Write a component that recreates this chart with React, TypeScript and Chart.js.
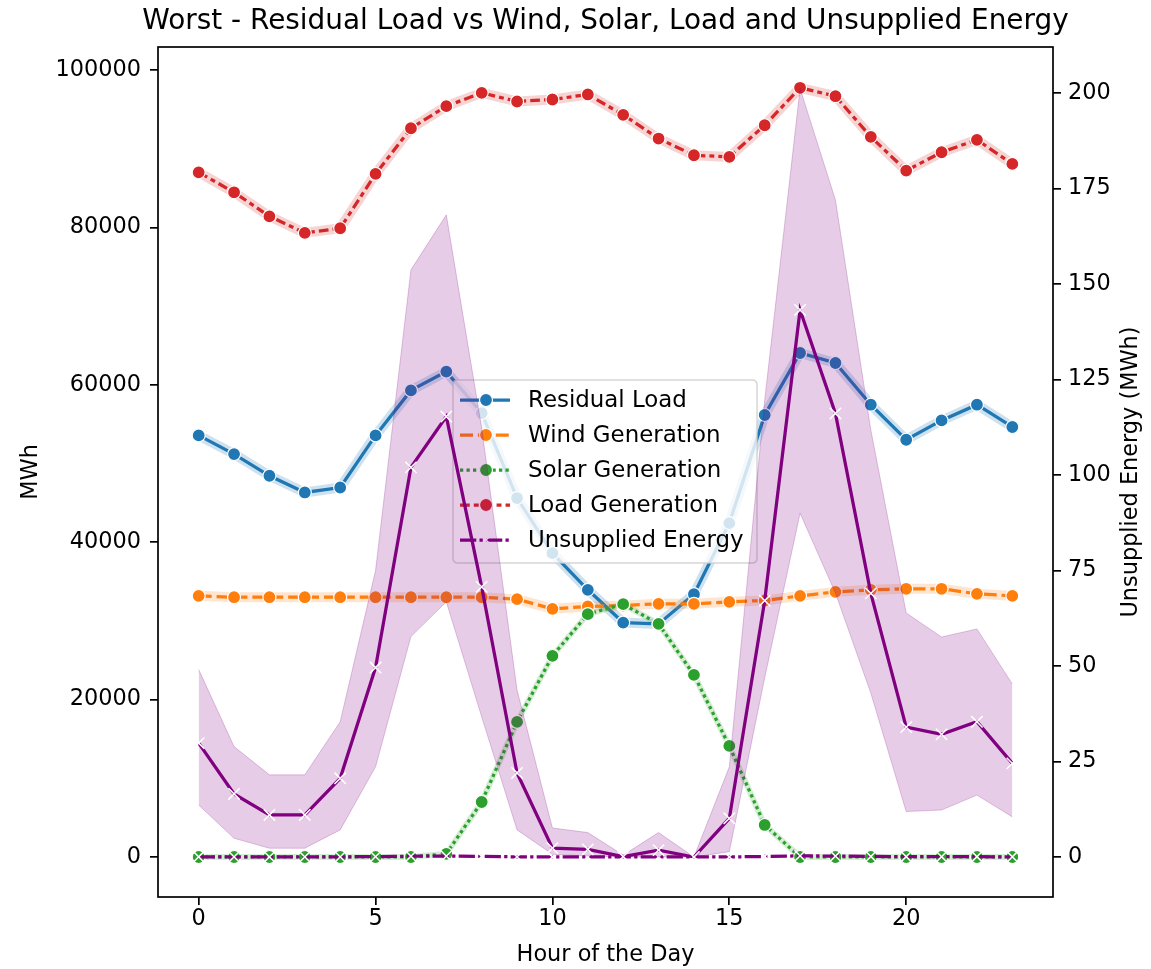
import React, { useEffect, useRef } from 'react';
import { Chart, registerables } from 'chart.js';

Chart.register(...registerables);

// ---------------- data ----------------
const hours = [0, 1, 2, 3, 4, 5, 6, 7, 8, 9, 10, 11, 12, 13, 14, 15, 16, 17, 18, 19, 20, 21, 22, 23];

const residualLoad = [53570, 51200, 48440, 46320, 46950, 53570, 59290, 61670, 56410, 45610, 38610, 33950,
  29790, 29620, 33400, 42430, 56160, 64040, 62770, 57470, 53020, 55470, 57470, 54640];

const windGeneration = [33180, 33010, 33010, 33010, 33010, 33010, 33010, 33010, 33010, 32760, 31530, 31830,
  31950, 32170, 32170, 32420, 32590, 33180, 33690, 33950, 34080, 34080, 33440, 33180];

const solarGeneration = [0, 0, 0, 0, 0, 0, 0, 400, 6990, 17160, 25560, 30860,
  32130, 29620, 23140, 14110, 4070, 0, 0, 0, 0, 0, 0, 0];

const loadGeneration = [87000, 84460, 81410, 79300, 79890, 86800, 92600, 95400, 97100, 96000, 96250, 96890,
  94300, 91290, 89170, 88960, 92980, 97740, 96670, 91510, 87220, 89550, 91130, 88070];

const unsuppliedEnergy = [29.8, 16.5, 11.0, 11.0, 20.6, 49.6, 102.0, 115.3, 70.7, 22.0, 2.3, 2.0,
  0.1, 1.8, 0, 10.1, 67.1, 143.2, 116.1, 69.0, 34.0, 32.1, 35.4, 24.5];

const unsuppliedLower = [13.6, 4.9, 2.3, 2.3, 7.1, 23.6, 57.7, 66.8, 36.7, 7.1, 0.7, 0.3,
  0, 0, 0, 1.4, 46.9, 90.0, 69.1, 42.9, 11.9, 12.3, 16.2, 10.5];

const unsuppliedUpper = [49.1, 28.9, 21.5, 21.5, 35.4, 75.0, 153.7, 168.1, 112.3, 43.7, 7.6, 6.4,
  0.5, 6.4, 0, 23.6, 119.6, 201.2, 172.0, 111.8, 63.9, 57.6, 59.7, 45.3];

const leftTicks = [0, 20000, 40000, 60000, 80000, 100000];
const rightTicks = [0, 25, 50, 75, 100, 125, 150, 175, 200];
const xTicks = [0, 5, 10, 15, 20];

const titleText = 'Worst - Residual Load vs Wind, Solar, Load and Unsupplied Energy';
const xLabel = 'Hour of the Day';
const leftLabel = 'MWh';
const rightLabel = 'Unsupplied Energy (MWh)';

// ---------------- style ----------------
const W = 1151;
const H = 969;
const FONT = '"DejaVu Sans", "Liberation Sans", sans-serif';
const FS = 22.4;
const LEGEND_FS = 22.9;
const TITLE_FS = 27.9;
const LW = 3.25;
const BLUE = '#1f77b4';
const ORANGE = '#ff7f0e';
const GREEN = '#2ca02c';
const RED = '#d62728';
const PURPLE = '#800080';

const DASH_WIND = [13, 4.9];
const DASH_SOLAR = [3.25, 3.25];
const DASH_LOAD = [9.75, 4.06, 4.9, 4.06];
const DASH_UNS = [16.25, 3.25, 3.25, 3.25];

const legendItems = [
  { label: 'Residual Load', color: BLUE, dash: [] as number[], marker: 'circle' },
  { label: 'Wind Generation', color: ORANGE, dash: DASH_WIND, marker: 'circle' },
  { label: 'Solar Generation', color: GREEN, dash: DASH_SOLAR, marker: 'circle' },
  { label: 'Load Generation', color: RED, dash: DASH_LOAD, marker: 'circle' },
  { label: 'Unsupplied Energy', color: PURPLE, dash: DASH_UNS, marker: 'x' },
];

function pts(arr: number[]) {
  return hours.map((h, i) => ({ x: h, y: arr[i] }));
}

function hexA(hex: string, a: number) {
  const n = parseInt(hex.slice(1), 16);
  return `rgba(${(n >> 16) & 255},${(n >> 8) & 255},${n & 255},${a})`;
}

function drawLegend(ctx: CanvasRenderingContext2D) {
  ctx.save();
  const x0 = 453, y0 = 380, w = 304, h = 183, r = 5;
  ctx.beginPath();
  ctx.moveTo(x0 + r, y0);
  ctx.lineTo(x0 + w - r, y0);
  ctx.quadraticCurveTo(x0 + w, y0, x0 + w, y0 + r);
  ctx.lineTo(x0 + w, y0 + h - r);
  ctx.quadraticCurveTo(x0 + w, y0 + h, x0 + w - r, y0 + h);
  ctx.lineTo(x0 + r, y0 + h);
  ctx.quadraticCurveTo(x0, y0 + h, x0, y0 + h - r);
  ctx.lineTo(x0, y0 + r);
  ctx.quadraticCurveTo(x0, y0, x0 + r, y0);
  ctx.closePath();
  ctx.fillStyle = 'rgba(255,255,255,0.8)';
  ctx.fill();
  ctx.strokeStyle = 'rgba(204,204,204,0.8)';
  ctx.lineWidth = 1.5;
  ctx.stroke();

  legendItems.forEach((it, i) => {
    const cy = 400 + i * 35;
    ctx.setLineDash(it.dash);
    ctx.strokeStyle = it.color;
    ctx.lineWidth = LW;
    ctx.lineCap = 'butt';
    ctx.beginPath();
    ctx.moveTo(460, cy);
    ctx.lineTo(510, cy);
    ctx.stroke();
    ctx.setLineDash([]);
    if (it.marker === 'circle') {
      ctx.beginPath();
      ctx.arc(486, cy, 6.5, 0, Math.PI * 2);
      ctx.fillStyle = it.color;
      ctx.fill();
      ctx.strokeStyle = '#fff';
      ctx.lineWidth = 1.2;
      ctx.stroke();
    } else {
      ctx.strokeStyle = '#fff';
      ctx.lineWidth = 1.5;
      ctx.beginPath();
      ctx.moveTo(486 - 5.5, cy - 5.5);
      ctx.lineTo(486 + 5.5, cy + 5.5);
      ctx.moveTo(486 - 5.5, cy + 5.5);
      ctx.lineTo(486 + 5.5, cy - 5.5);
      ctx.stroke();
    }
    ctx.fillStyle = '#000';
    ctx.font = `${LEGEND_FS}px ${FONT}`;
    ctx.textAlign = 'left';
    ctx.textBaseline = 'middle';
    ctx.fillText(it.label, 528, cy + 1);
  });
  ctx.restore();
}

export default function App() {
  const ref = useRef<HTMLCanvasElement>(null);

  useEffect(() => {
    document.body.style.margin = '0';
    document.body.style.overflow = 'hidden';
    const canvas = ref.current;
    if (!canvas) return;

    const lineBase = {
      tension: 0,
      fill: false,
      pointRadius: 6.5,
      pointHoverRadius: 6.5,
      pointBorderColor: '#fff',
      pointBorderWidth: 1.2,
      borderWidth: LW,
    };
    const halo = (data: number[], color: string, order: number, width: number, alpha: number) => ({
      label: 'halo',
      data: pts(data),
      yAxisID: 'y',
      borderColor: hexA(color, alpha),
      borderWidth: width,
      borderCapStyle: 'round' as const,
      borderJoinStyle: 'round' as const,
      pointRadius: 0,
      tension: 0,
      fill: false,
      order,
    });

    const legendPlugin = {
      id: 'mplLegend',
      beforeDatasetDraw(chart: any, args: any) {
        if (chart.data.datasets[args.index].label === 'band-lower') {
          drawLegend(chart.ctx);
        }
      },
    };

    const framePlugin = {
      id: 'mplFrame',
      afterDraw(chart: any) {
        const { ctx, chartArea } = chart;
        ctx.save();
        ctx.strokeStyle = '#000';
        ctx.lineWidth = 1.7;
        ctx.strokeRect(chartArea.left, chartArea.top, chartArea.right - chartArea.left, chartArea.bottom - chartArea.top);
        ctx.fillStyle = '#000';
        ctx.textAlign = 'center';
        ctx.textBaseline = 'middle';
        ctx.font = `${TITLE_FS}px ${FONT}`;
        const cx = (chartArea.left + chartArea.right) / 2;
        const cy = (chartArea.top + chartArea.bottom) / 2;
        ctx.fillText(titleText, cx, 22);
        ctx.font = `${FS}px ${FONT}`;
        ctx.fillText(xLabel, cx, 955);
        ctx.save();
        ctx.translate(31, cy);
        ctx.rotate(-Math.PI / 2);
        ctx.fillText(leftLabel, 0, 0);
        ctx.restore();
        ctx.save();
        ctx.translate(1131, cy);
        ctx.rotate(-Math.PI / 2);
        ctx.fillText(rightLabel, 0, 0);
        ctx.restore();
        ctx.restore();
      },
    };

    const tickFont = { family: FONT, size: FS };
    const gridCfg = {
      display: true,
      drawOnChartArea: false,
      drawTicks: true,
      tickLength: 8,
      color: '#000',
      lineWidth: 1.7,
    };

    const xMarker = { pointStyle: 'crossRot', pointRadius: 8, pointHoverRadius: 8, pointBorderColor: '#fff', pointBorderWidth: 1.5 };

    const chart = new Chart(canvas, {
      type: 'line',
      data: {
        datasets: [
          halo(residualLoad, BLUE, 100, 10, 0.22),
          { ...lineBase, label: 'Residual Load', data: pts(residualLoad), yAxisID: 'y', borderColor: BLUE, backgroundColor: BLUE, pointBackgroundColor: BLUE, order: 99 },
          halo(windGeneration, ORANGE, 98, 10, 0.2),
          { ...lineBase, label: 'Wind Generation', data: pts(windGeneration), yAxisID: 'y', borderColor: ORANGE, backgroundColor: ORANGE, pointBackgroundColor: ORANGE, borderDash: DASH_WIND, order: 97 },
          halo(solarGeneration, GREEN, 96, 6, 0.2),
          { ...lineBase, label: 'Solar Generation', data: pts(solarGeneration), yAxisID: 'y', borderColor: GREEN, backgroundColor: GREEN, pointBackgroundColor: GREEN, borderDash: DASH_SOLAR, order: 95 },
          halo(loadGeneration, RED, 94, 10, 0.2),
          { ...lineBase, label: 'Load Generation', data: pts(loadGeneration), yAxisID: 'y', borderColor: RED, backgroundColor: RED, pointBackgroundColor: RED, borderDash: DASH_LOAD, order: 93 },
          { ...lineBase, ...xMarker, label: 'Unsupplied Energy', data: pts(unsuppliedEnergy), yAxisID: 'y', borderColor: PURPLE, backgroundColor: PURPLE, borderDash: DASH_UNS, order: 92 },
          { label: 'band-lower', data: pts(unsuppliedLower), yAxisID: 'y2', borderColor: 'rgba(128,0,128,0.22)', borderWidth: 1, pointRadius: 0, tension: 0, fill: false, order: 11 },
          { label: 'band-upper', data: pts(unsuppliedUpper), yAxisID: 'y2', borderColor: 'rgba(128,0,128,0.22)', borderWidth: 1, pointRadius: 0, tension: 0, fill: '-1', backgroundColor: 'rgba(128,0,128,0.2)', order: 10 },
          { ...lineBase, ...xMarker, label: 'Unsupplied Energy (right)', data: pts(unsuppliedEnergy), yAxisID: 'y2', borderColor: PURPLE, backgroundColor: PURPLE, order: 1 },
        ] as any,
      },
      options: {
        responsive: false,
        animation: false,
        events: [],
        layout: { padding: { top: 47, left: 0, right: 0, bottom: 0 } },
        plugins: {
          legend: { display: false },
          tooltip: { enabled: false },
          title: { display: false },
        },
        scales: {
          x: {
            type: 'linear',
            min: -1.15,
            max: 24.15,
            border: { display: false },
            grid: gridCfg,
            ticks: { color: '#000', font: tickFont, padding: 1, maxRotation: 0 },
            afterBuildTicks: (s: any) => { s.ticks = xTicks.map((v) => ({ value: v })); },
            afterFit: (s: any) => { s.height = 72; },
          },
          y: {
            type: 'linear',
            position: 'left',
            min: -5083,
            max: 102922,
            border: { display: false },
            grid: gridCfg,
            ticks: { color: '#000', font: tickFont, padding: 9, callback: (v: any) => String(v) },
            afterBuildTicks: (s: any) => { s.ticks = leftTicks.map((v) => ({ value: v })); },
            afterFit: (s: any) => { s.width = 158; },
          },
          y2: {
            type: 'linear',
            position: 'right',
            min: -10.47,
            max: 212.04,
            border: { display: false },
            grid: gridCfg,
            ticks: { color: '#000', font: tickFont, padding: 7, callback: (v: any) => String(v) },
            afterBuildTicks: (s: any) => { s.ticks = rightTicks.map((v) => ({ value: v })); },
            afterFit: (s: any) => { s.width = 98; },
          },
        },
      } as any,
      plugins: [legendPlugin, framePlugin],
    });

    return () => chart.destroy();
  }, []);

  return <canvas ref={ref} width={W} height={H} style={{ display: 'block' }} />;
}
